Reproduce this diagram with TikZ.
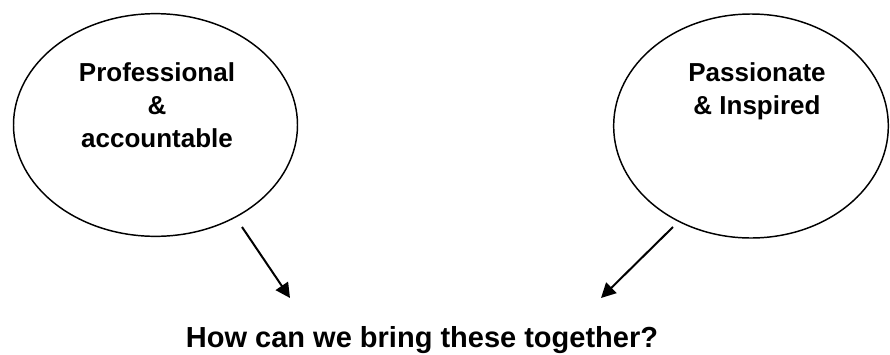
\documentclass[tikz,border=0pt]{standalone}
\usepackage{fontspec}
\setmainfont{Liberation Sans}
\usetikzlibrary{shapes.geometric, arrows.meta, positioning, calc}

\begin{document}
\begin{tikzpicture}[
    x=0.75pt, y=-0.75pt,
    bubble/.style={draw, ellipse, line width=1.1pt, inner sep=0pt},
    lbl/.style={align=center, inner sep=0pt, font=\fontsize{19.5}{24.75}\selectfont\bfseries},
    question/.style={inner sep=0pt, font=\fontsize{21.75}{26}\selectfont\bfseries},
    arr/.style={-{Triangle[length=11pt, width=11pt]}, line width=1.5pt},
]
    \useasboundingbox (0,0) rectangle (890,354);

    \node[bubble, minimum width=213pt, minimum height=167pt] (prof) at (155.5,125) {};
    \node[bubble, minimum width=206pt, minimum height=168pt] (pass) at (751,126) {};

    \node[lbl, anchor=north] (proftext) at (157,62) {Professional\\\&\\accountable};
    \node[lbl, anchor=north] (passtext) at (757,62) {Passionate\\\& Inspired};

    \node[question, anchor=base] (q) at (422,347) {How can we bring these together?};

    % arrows towards the question
    \coordinate (a1) at (242,227);
    \coordinate (a2) at (290,298);
    \coordinate (b1) at (673,227);
    \coordinate (b2) at (601,298);
    \draw[arr] (a1) -- (a2);
    \draw[arr] (b1) -- (b2);
\end{tikzpicture}
\end{document}
